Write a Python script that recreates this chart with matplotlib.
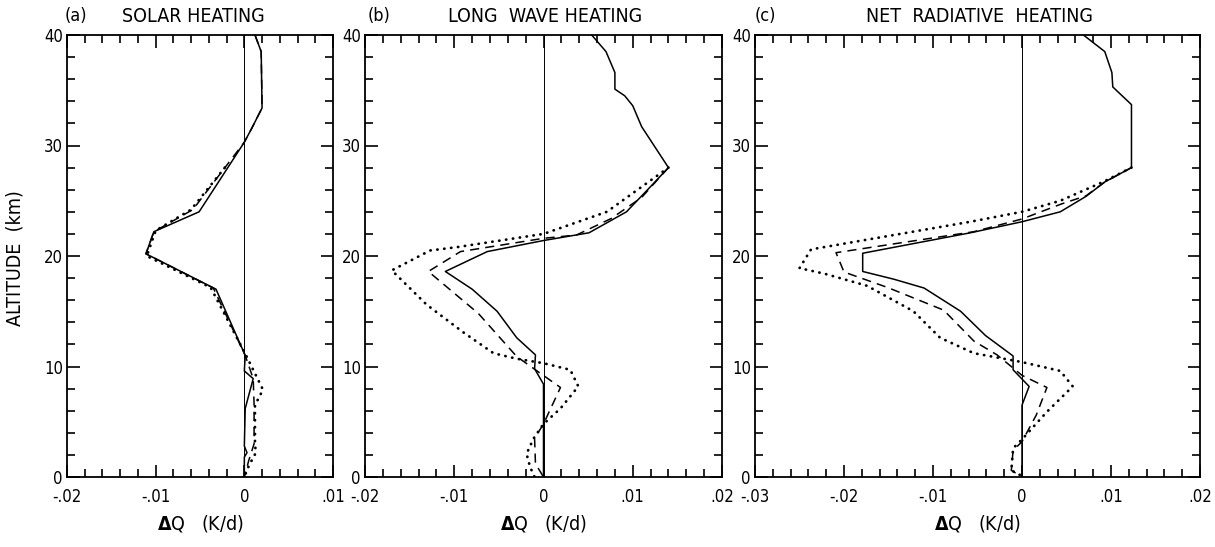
import matplotlib
matplotlib.use('Agg')
import matplotlib.pyplot as plt
from matplotlib.ticker import MultipleLocator, FixedFormatter, FixedLocator
import numpy as np

plt.rcParams['font.family'] = ['DejaVu Sans']
plt.rcParams['font.stretch'] = 'condensed'

# values, x in units of 0.01 K/d, altitude in km
# (a) solar heating
a_solid_x = [0.12, 0.19, 0.20, 0.08, 0.0, -0.51, -1.02, -1.11, -0.32, 0.01, 0.0, 0.10, 0.01, 0.0, 0.03, 0.0, 0.0]
a_solid_z = [40.0, 38.5, 33.4, 31.5, 30.3, 24.0, 22.2, 20.2, 17.0, 11.0, 9.6, 8.9, 6.2, 2.8, 2.2, 1.8, 0.0]
a_dash_x = [0.12, 0.19, 0.20, 0.08, 0.0, -0.58, -1.02, -1.11, -0.35, 0.01, 0.10, 0.11, 0.11, 0.05, 0.0]
a_dash_z = [40.0, 38.5, 33.4, 31.5, 30.3, 24.2, 22.2, 20.2, 17.1, 11.0, 8.9, 6.6, 3.0, 1.5, 0.0]
a_dot_x = [-0.22, -0.60, -1.00, -1.10, -0.38, 0.02, 0.21, 0.12, 0.12, 0.13, 0.05, 0.0]
a_dot_z = [28.0, 24.2, 22.3, 20.0, 17.15, 11.0, 7.9, 6.5, 3.0, 2.2, 1.0, 0.0]

# (b) long wave heating
b_solid_x = [0.54, 0.70, 0.80, 0.80, 0.91, 1.00, 1.10, 1.40, 1.19, 0.93, 0.51, 0.0, -0.63, -1.10,
             -0.80, -0.52, -0.30, -0.09, -0.10, 0.0, 0.0]
b_solid_z = [40.0, 38.5, 36.6, 35.1, 34.5, 33.6, 31.7, 28.0, 26.2, 24.0, 22.1, 21.4, 20.4, 18.6,
             17.0, 15.0, 12.6, 11.05, 9.8, 8.4, 0.0]
b_dash_x = [1.40, 1.10, 0.76, 0.37, 0.0, -0.93, -1.29, -0.73, -0.30, 0.19, 0.0, -0.10, -0.09, 0.0]
b_dash_z = [28.0, 25.3, 23.4, 21.9, 21.6, 20.4, 18.6, 14.8, 10.9, 8.1, 4.8, 3.5, 1.2, 0.0]
b_dot_x = [1.40, 0.71, 0.0, -0.97, -1.27, -1.70, -1.31, -0.90, -0.56, -0.30, 0.0, 0.30, 0.39, 0.19,
           0.0, -0.11, -0.19, -0.15, -0.10]
b_dot_z = [28.0, 24.0, 22.0, 20.8, 20.5, 18.7, 15.6, 13.1, 11.2, 10.7, 10.3, 9.7, 8.2, 6.2,
           4.8, 3.5, 2.1, 0.9, 0.0]

# (c) net radiative heating
c_solid_x = [0.69, 0.93, 1.01, 1.02, 1.23, 1.23, 0.93, 0.72, 0.43, 0.0, -0.58, -1.79, -1.79, -1.44,
             -1.10, -0.69, -0.41, -0.10, -0.10, 0.08, 0.0, 0.0]
c_solid_z = [40.0, 38.5, 36.6, 35.3, 33.7, 28.0, 26.7, 25.4, 24.0, 23.1, 22.1, 20.25, 18.6, 17.9,
             17.1, 15.0, 12.8, 10.95, 9.7, 8.2, 6.5, 0.0]
c_dash_x = [1.23, 0.93, 0.72, 0.44, 0.0, -0.54, -2.09, -2.00, -1.51, -0.88, -0.54, -0.28, 0.0, 0.28,
            0.16, 0.0, -0.10, -0.12, 0.0]
c_dash_z = [28.0, 26.7, 25.45, 24.7, 23.35, 22.2, 20.3, 18.55, 17.15, 15.1, 12.3, 11.05, 9.2, 8.1,
            5.6, 3.2, 2.4, 0.6, 0.0]
c_dot_x = [1.23, 0.91, 0.43, 0.0, -0.58, -2.37, -2.50, -2.22, -1.74, -1.22, -0.92, -0.54, 0.0, 0.43,
           0.57, 0.28, 0.0, -0.10, -0.12, 0.02]
c_dot_z = [28.0, 26.7, 25.0, 24.0, 23.1, 20.6, 18.9, 18.4, 17.3, 15.0, 12.6, 11.2, 10.4, 9.6,
           8.2, 5.9, 3.4, 2.6, 0.6, 0.0]

panels = [
    dict(tag='(a)', title='SOLAR HEATING', xlim=(-0.02, 0.01),
         xticks=[-0.02, -0.01, 0, 0.01], xlabels=['-.02', '-.01', '0', '.01'],
         solid=(a_solid_x, a_solid_z), dash=(a_dash_x, a_dash_z), dot=(a_dot_x, a_dot_z),
         px=(67, 333), tagx=65, titlex=193),
    dict(tag='(b)', title='LONG  WAVE HEATING', xlim=(-0.02, 0.02),
         xticks=[-0.02, -0.01, 0, 0.01, 0.02], xlabels=['-.02', '-.01', '0', '.01', '.02'],
         solid=(b_solid_x, b_solid_z), dash=(b_dash_x, b_dash_z), dot=(b_dot_x, b_dot_z),
         px=(365, 722), tagx=368, titlex=545),
    dict(tag='(c)', title='NET  RADIATIVE  HEATING', xlim=(-0.03, 0.02),
         xticks=[-0.03, -0.02, -0.01, 0, 0.01, 0.02], xlabels=['-.03', '-.02', '-.01', '0', '.01', '.02'],
         solid=(c_solid_x, c_solid_z), dash=(c_dash_x, c_dash_z), dot=(c_dot_x, c_dot_z),
         px=(755, 1200), tagx=755, titlex=980),
]

W, H = 1215, 547
fig = plt.figure(figsize=(W / 100, H / 100), dpi=100)
top, bottom = 35, 477

for p in panels:
    x0, x1 = p['px']
    ax = fig.add_axes([x0 / W, 1 - bottom / H, (x1 - x0) / W, (bottom - top) / H])

    sx, sz = p['solid']
    ax.plot(np.array(sx) * 0.01, sz, color='k', lw=1.1)
    dx, dz = p['dash']
    ax.plot(np.array(dx) * 0.01, dz, color='k', lw=1.1, dashes=(6, 4))
    tx, tz = p['dot']
    ax.plot(np.array(tx) * 0.01, tz, color='k', lw=2.0, linestyle=(0, (0.1, 2.4)),
            dash_capstyle='round', solid_capstyle='round')
    ax.axvline(0, color='k', lw=0.7)

    ax.set_xlim(*p['xlim'])
    ax.set_ylim(0, 40)
    ax.xaxis.set_major_locator(FixedLocator(p['xticks']))
    ax.xaxis.set_major_formatter(FixedFormatter(p['xlabels']))
    ax.xaxis.set_minor_locator(MultipleLocator(0.002))
    ax.yaxis.set_major_locator(MultipleLocator(10))
    ax.yaxis.set_minor_locator(MultipleLocator(2))
    ax.tick_params(which='both', direction='in', top=True, right=True, labelsize=12, width=1.2)
    ax.tick_params(which='major', length=9)
    ax.tick_params(axis='x', which='major', pad=8)
    ax.tick_params(axis='y', which='major', pad=3)
    ax.tick_params(which='minor', length=6)
    for s in ax.spines.values():
        s.set_linewidth(1.3)

    fig.text(p['tagx'] / W, 1 - 16 / H, p['tag'], fontsize=13, ha='left', va='center')
    fig.text(p['titlex'] / W, 1 - 16 / H, p['title'], fontsize=14, ha='center', va='center')
    fig.text((x0 + x1) / 2 / W, 1 - 524 / H, r'$\mathbf{\Delta}$Q   (K/d)', fontsize=14,
             ha='center', va='center')

fig.text(15 / W, 1 - 258 / H, 'ALTITUDE  (km)', fontsize=14, rotation=90, ha='center', va='center')

fig.savefig('out.png', dpi=100)
